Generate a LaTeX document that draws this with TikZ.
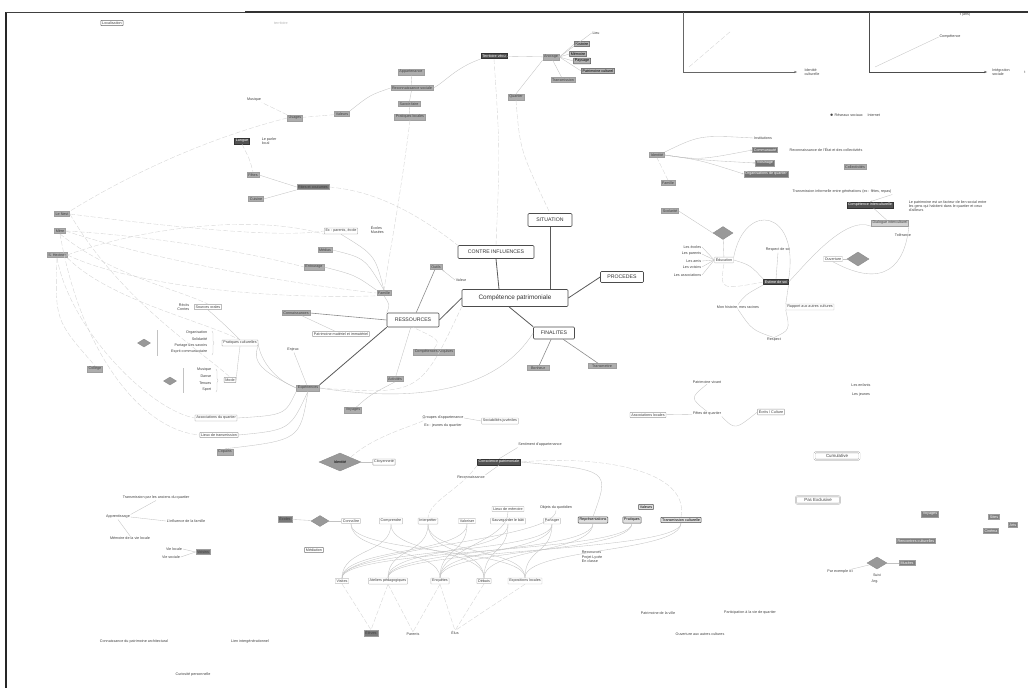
\documentclass[tikz,border=0pt]{standalone}
\usepackage{fontspec}
\setmainfont{Liberation Sans}
\usepackage{tikz}
\usetikzlibrary{positioning}
\usetikzlibrary{arrows.meta}
\usetikzlibrary{decorations.pathreplacing}
\usetikzlibrary{shapes.geometric}

\newcommand{\cmaptiny}{\fontsize{3.7}{4.3}\selectfont}
\newcommand{\cmapmain}{\fontsize{5.2}{6}\selectfont}

\tikzset{
    mainbox/.style={draw=black!70, fill=white, rounded corners=1pt,
        line width=0.6pt, inner sep=1.8pt, font=\cmapmain, text=black!80},
    greybox/.style={fill=black!32, draw=black!38, inner sep=1.3pt,
        font=\cmaptiny, text=black!75},
    darkbox/.style={fill=black!68, draw=black!80, inner sep=1.3pt,
        font=\cmaptiny, text=white},
    whitebox/.style={draw=black!40, fill=white, rounded corners=0.5pt,
        inner sep=1.3pt, font=\cmaptiny, text=black!75},
    framebox/.style={draw=black!70, fill=black!12, line width=0.5pt,
        rounded corners=0.5pt, inner sep=1.3pt, font=\cmaptiny},
    doublebox/.style={draw=black!45, double, double distance=0.6pt,
        rounded corners=1pt, fill=white, inner sep=2pt,
        font=\fontsize{4.4}{5}\selectfont, text=black!75},
    note/.style={inner sep=0.6pt, font=\cmaptiny, text=black!75},
    gdiamond/.style={diamond, fill=black!40, draw=black!45, inner sep=0pt},
    mainlink/.style={draw=black!65, line width=0.8pt},
    midlink/.style={draw=black!45, line width=0.6pt},
    link/.style={draw=black!24, line width=0.35pt},
    faintlink/.style={draw=black!16, line width=0.4pt, dash pattern=on 5pt off 2pt}
}

\begin{document}
\begin{tikzpicture}[x=1pt, y=-1pt]
\useasboundingbox (0,0) rectangle (1028,688);

% cadre
\draw[black!85, line width=1.4pt] (6,688) -- (6,12);
\draw[black!75, line width=0.8pt] (6,12) -- (245,12);
\draw[black!80, line width=1.4pt] (245,12) -- (1028,12);

% axes
\coordinate (axAo) at (683,72);
\coordinate (axAy) at (683,12);
\coordinate (axAx) at (797,72);
\coordinate (axBo) at (869,72);
\coordinate (axBy) at (869,12);
\coordinate (axBx) at (987,72);
\draw[black!60, line width=0.5pt] (axAy) -- (axAo);
\draw[black!60, line width=0.5pt, -{Stealth[length=3pt]}] (axAo) -- (axAx);
\draw[black!70, line width=0.6pt] (axBy) -- (axBo);
\draw[black!70, line width=0.6pt, -{Stealth[length=3pt]}] (axBo) -- (axBx);
\node[note, align=left] (axAlab) at (812,72) {Identité\\culturelle};
\node[note, align=left] (axBlab) at (1001,72) {Intégration\\sociale};
\node[note] (axBend) at (1025,72) {t};
\node[note] (axBtop) at (965,15) {t (ans)};
\node[note] (axBcomp) at (950,37) {Compétence};
\draw[link] ([shift={(6,-5)}]axBo) -- (axBcomp.west);
\draw[faintlink] ([shift={(6,-5)}]axAo) -- ++(42,-36);

% noyau
\node[mainbox, minimum width=106pt, minimum height=17pt,
    font=\fontsize{6.4}{7}\selectfont] (comp) at (515,298) {Compétence patrimoniale};
\node[mainbox, minimum width=76pt, minimum height=13pt] (contre) at (496,252) {CONTRE INFLUENCES};
\node[mainbox, minimum width=44pt, minimum height=13pt] (situ) at (550,220) {SITUATION};
\node[mainbox, minimum width=43pt, minimum height=11pt] (proc) at (622,277) {PROCEDES};
\node[mainbox, minimum width=41pt, minimum height=12pt] (fina) at (554,333) {FINALITES};
\node[mainbox, minimum width=52pt, minimum height=14pt] (ress) at (413,320) {RESSOURCES};

\draw[mainlink] (situ.south) -- (situ.south |- comp.north);
\draw[mainlink] (contre.south) -- ([xshift=3pt]contre.south |- comp.north);
\draw[mainlink] (proc.west) -- (comp.east);
\draw[mainlink] ([xshift=-6pt]comp.south) -- (fina.north west);
\draw[mainlink] (ress.east) -- (comp.west);

\node[greybox, minimum width=22pt] (fin1) at (538,368) {Bonheur};
\node[greybox, minimum width=28pt] (fin2) at (602,366) {Transmettre};
\draw[midlink] (fina) -- (fin1);
\draw[midlink] (fina) -- (fin2);

% ressources
\node[greybox] (outil) at (436,267) {Outils};
\node[note] (valeur) at (461,280) {Valeur};
\node[greybox] (rcomp) at (434,352) {Compétences acquises};
\node[greybox] (rconn) at (296,313) {Connaissances};
\node[whitebox] (rpat) at (341,334) {Patrimoine matériel et immatériel};
\node[note] (enjeux) at (293,350) {Enjeux};
\node[greybox] (exper) at (308,388) {Expériences};
\node[greybox] (activ) at (395,379) {Activités};
\node[greybox] (voyag) at (353,410) {Voyages};
\node[greybox] (famil) at (384,293) {Famille};

\draw[midlink] (outil) -- (ress);
\draw[link, -{Stealth[length=2pt]}] (valeur.west) -- (outil.south east);
\draw[midlink] (rconn.east) -- (ress.west);
\draw[link] (rconn) -- (rpat);
\draw[mainlink] (exper.north east) -- (ress.south west);
\draw[link] (enjeux) -- (exper);
\draw[link] (activ) -- (ress);
\draw[link] (voyag) .. controls (370,395) .. (activ.south);
\draw[link] (famil.south) .. controls (390,305) .. (ress.north west);
\draw[link] (exper.east) .. controls (430,405) and (500,385) .. (fina.west);
\draw[faintlink] (rcomp.north) .. controls (440,340) .. (ress.south);

% gauche
\node[greybox] (nest) at (62,214) {Le Nest};
\node[greybox] (mere) at (60,231) {Mère};
\node[greybox] (shec) at (57,255) {S. Hectner};
\node[greybox] (colle) at (95,369) {Collège};
\node[whitebox] (tbex) at (341,231) {Ex : parents, école};
\node[note, align=left, anchor=west] (ecmu) at (370,230) {Écoles\\Musées};
\node[greybox] (media) at (325,250) {Médias};
\node[greybox] (entou) at (314,267) {Entourage};
\node[whitebox] (orale) at (208,307) {Sources orales};
\node[note, align=right, anchor=east] (recit) at (190,307) {Récits\\Contes};

\node[whitebox] (pcult) at (240,343) {Pratiques culturelles};
\node[note, anchor=east] (pc1) at (208,333) {Organisation};
\node[note, anchor=east] (pc2) at (208,339) {Solidarité};
\node[note, anchor=east] (pc3) at (208,346) {Partage des savoirs};
\node[note, anchor=east] (pc4) at (208,352) {Esprit communautaire};
\node[gdiamond, minimum width=13pt, minimum height=8pt] (dgA) at (144,343) {};
\draw[link] (157,330) -- (157,356);
\draw[link, decorate, decoration={brace, amplitude=2pt}] (212,331) -- (212,355);

\node[whitebox] (mode) at (230,380) {Mode};
\node[note, anchor=east] (md1) at (212,370) {Musique};
\node[note, anchor=east] (md2) at (212,376) {Danse};
\node[note, anchor=east] (md3) at (212,383) {Tenues};
\node[note, anchor=east] (md4) at (212,390) {Sport};
\node[gdiamond, minimum width=13pt, minimum height=8pt] (dgB) at (170,381) {};
\draw[link] (183,368) -- (183,393);
\draw[link, decorate, decoration={brace, amplitude=2pt}] (216,369) -- (216,392);

\node[whitebox] (assq) at (216,418) {Associations du quartier};
\node[whitebox] (lieut) at (219,435) {Lieux de transmission};
\node[greybox] (copai) at (225,452) {Copains};

\draw[faintlink] (nest.east) .. controls (180,228) and (280,238) .. (tbex.west);
\draw[faintlink] (mere.east) .. controls (160,262) and (300,285) .. (famil.west);
\draw[faintlink] (shec.east) .. controls (150,225) and (260,215) .. (tbex.south west);
\draw[faintlink] (mere.east) .. controls (140,235) and (240,250) .. (entou.west);
\draw[faintlink] (shec.south) .. controls (70,330) and (150,410) .. (assq.west);
\draw[faintlink] (shec.south east) .. controls (110,300) and (200,320) .. (pcult.north);
\draw[faintlink] (mere.south) .. controls (110,275) and (180,290) .. (orale.north);
\draw[faintlink] (shec.south) .. controls (55,320) .. (colle.north);
\draw[faintlink] (nest.east) .. controls (120,300) and (200,350) .. (mode.north);
\draw[faintlink] (shec.east) .. controls (120,280) and (240,300) .. (famil.south west);
\draw[faintlink] (mere.south) .. controls (80,350) and (140,430) .. (lieut.west);

\draw[link] (tbex.south) .. controls (375,255) .. (famil.north);
\draw[link] (media.east) .. controls (365,258) .. (famil.north);
\draw[link] (entou.east) .. controls (355,275) .. (famil.north west);
\draw[link] (orale.south) .. controls (225,325) .. (pcult.north);
\draw[link] (pcult.east) .. controls (260,360) and (275,380) .. (exper.west);
\draw[link] (mode.east) .. controls (238,362) .. (pcult.south);
\draw[link] (pcult.south east) .. controls (250,365) and (270,375) .. (exper.west);
\draw[link] (assq.east) .. controls (285,415) .. (exper.south west);
\draw[link] (lieut.east) .. controls (290,430) .. (exper.south);
\draw[link] (copai.north) .. controls (300,440) .. (exper.south);
\draw[faintlink] (exper.east) .. controls (420,395) .. (comp.south west);

% haut
\node[whitebox, draw=black!60] (local) at (112,23) {Localisation};
\node[note, text=black!30] (hfaint) at (281,23) {territoire};
\node[darkbox] (terri) at (494,56) {Territoire vécu};
\node[greybox] (ancra) at (551,57) {Ancrage};
\node[note] (li1) at (596,33) {Lieu};
\node[framebox, fill=black!30] (li2) at (582,44) {Histoire};
\node[framebox, fill=black!30] (li3) at (578,54) {Mémoire};
\node[framebox, fill=black!30] (li4) at (582,61) {Paysage};
\node[framebox, fill=black!30] (li5) at (598,71) {Patrimoine culturel};
\node[greybox] (li6) at (563,80) {Transmission};
\node[greybox] (lieu) at (516,97) {Quartier};
\draw[link] (terri) -- (ancra);
\foreach \l in {li1, li2, li3, li4, li5}
{
    \draw[link] (ancra.east) -- (\l.west);
}
\draw[link] (ancra) -- (li6);
\draw[link] (lieu.north) -- (ancra.south west);

\node[greybox] (st1) at (411,72) {Appartenance};
\node[greybox] (st2) at (412,88) {Reconnaissance sociale};
\node[greybox] (st3) at (409,104) {Savoir-faire};
\node[greybox] (st4) at (410,117) {Pratiques locales};
\draw[link] (st1) -- (st2) -- (st3) -- (st4);
\draw[link] (terri.south west) .. controls (455,68) and (445,82) .. (st2.east);
\node[greybox] (valrs) at (342,114) {Valeurs};
\node[greybox] (usage) at (295,118) {Usages};
\node[note] (musiq) at (254,100) {Musique};
\draw[link] (st2.west) .. controls (370,95) .. (valrs.north east);
\draw[faintlink] (valrs) -- (usage);
\draw[faintlink] (usage.north west) -- (musiq.south east);
\node[darkbox] (langu) at (242,141) {Langue};
\node[note, align=left, anchor=west] (parle) at (261,141) {Le parler\\local};
\node[greybox] (fetes) at (253,175) {Fêtes};
\node[greybox, fill=black!52] (rites) at (313,187) {Rites et coutumes};
\node[greybox] (cuisi) at (256,199) {Cuisine};
\draw[link] (fetes.east) -- (rites.west);
\draw[link] (cuisi.east) -- (rites.south west);
\draw[faintlink] (langu.south) .. controls (250,160) .. (fetes.north);
\draw[faintlink] (rites.east) .. controls (360,190) and (400,200) .. (contre.north west);
\draw[faintlink] (terri.south) .. controls (500,150) .. (contre.north);
\draw[faintlink] (lieu.south) .. controls (520,150) .. (situ.north);
\draw[faintlink] (st4.south) .. controls (400,200) and (390,250) .. (famil.north);
\draw[faintlink] (usage.west) .. controls (200,140) and (120,180) .. (nest.north east);

% droite haut
\node[note] (resea) at (855,115) {$\bullet$ Réseaux sociaux \quad Internet};
\node[note] (insti) at (763,138) {Institutions};
\node[greybox, fill=black!55, text=white] (commu) at (765,150) {Communauté};
\node[greybox, fill=black!55, text=white] (voisi) at (765,163) {Voisinage};
\node[greybox, fill=black!55, text=white] (orgaq) at (766,174) {Organisations de quartier};
\node[note] (reco) at (826,150) {Reconnaissance de l'État et des collectivités};
\node[greybox] (colle2) at (855,167) {Collectivités};
\node[greybox] (ident) at (657,155) {Identité};
\node[greybox] (famil2) at (668,183) {Famille};
\node[greybox] (scola) at (670,211) {Scolarité};
\draw[link] (ident.north east) .. controls (700,135) .. (insti.west);
\foreach \b in {commu, voisi, orgaq}
{
    \draw[link, -{Stealth[length=2pt]}] (ident.east) .. controls (700,160) .. (\b.west);
}
\draw[faintlink] (famil2.north) -- (ident.south);

\node[note] (trans) at (842,192) {Transmission informelle entre générations (ex : fêtes, repas)};
\node[darkbox] (cinte) at (870,205) {Compétence interculturelle};
\node[note, align=left, anchor=west] (citat) at (908,206)
    {Le patrimoine est un facteur de lien social entre\\
     les gens qui habitent dans le quartier et ceux\\
     d'ailleurs};
\node[greybox, fill=black!18] (dialo) at (890,223) {Dialogue interculturel};
\node[note] (toler) at (903,235) {Tolérance};
\draw[link] (cinte) -- (dialo);
\draw[link, -{Stealth[length=2pt]}] (trans.south east) -- (cinte.north);

% droite milieu
\node[gdiamond, minimum width=20pt, minimum height=13pt] (rdiam) at (723,233) {};
\node[whitebox, draw=black!25] (educa) at (724,260) {Éducation};
\node[note, anchor=east] (ed1) at (702,247) {Les écoles};
\node[note, anchor=east] (ed2) at (702,254) {Les parents};
\node[note, anchor=east] (ed3) at (702,261) {Les amis};
\node[note, anchor=east] (ed4) at (702,267) {Les voisins};
\node[note, anchor=east] (ed5) at (702,275) {Les associations};
\foreach \e in {ed1, ed2, ed3, ed4, ed5}
{
    \draw[link] (\e.east) -- (educa.west);
}
\node[note] (rsoi) at (778,250) {Respect de soi};
\node[darkbox] (estim) at (776,282) {Estime de soi};
\node[whitebox, draw=black!25] (ouver) at (833,259) {Ouverture};
\node[gdiamond, minimum width=22pt, minimum height=14pt] (rdiam2) at (858,259) {};
\node[note] (monhi) at (738,307) {Mon histoire, mes racines};
\node[whitebox, draw=black!25] (rappo) at (810,307) {Rapport aux autres cultures};
\node[note] (respe) at (774,340) {Respect};

\draw[link] (scola.east) -- (rdiam.west);
\draw[link] (rdiam) -- (educa);
\draw[link] (educa.north east) .. controls (745,200) and (800,210) .. (estim.north east);
\draw[link] (educa.east) .. controls (750,265) .. (estim.north west);
\draw[link] (estim.east) .. controls (805,265) and (845,215) .. (dialo.south west);
\draw[link] (dialo.south east) .. controls (905,265) and (885,290) .. (ouver.south);
\draw[link] (ouver) -- (rdiam2);
\draw[link] (rsoi.south) -- (estim.north);
\draw[link] (estim.south west) .. controls (745,295) .. (monhi.north);
\draw[link] (estim.south east) -- (rappo.north west);
\draw[link] (monhi.south) .. controls (752,330) .. (respe.north);
\draw[link] (rappo.south west) .. controls (790,330) .. (respe.north);
\draw[faintlink] (estim.west) .. controls (720,290) .. (educa.south);

% droite bas
\node[note] (pviv) at (707,382) {Patrimoine vivant};
\node[whitebox] (assoc) at (648,415) {Associations locales};
\node[note] (fetq) at (707,414) {Fêtes de quartier};
\node[whitebox] (ecrit) at (771,412) {Écrits / Culture};
\node[note] (enfa) at (861,385) {Les enfants};
\node[note] (jeun) at (861,395) {Les jeunes};
\draw[link] (pviv.south) .. controls (690,398) .. (fetq.north);
\draw[link] (fetq.south east) .. controls (735,430) .. (ecrit.west);
\draw[link] (assoc) -- (fetq);

\node[doublebox, minimum width=45pt] (cumul) at (837,456) {Cumulative};
\node[doublebox, minimum width=44pt] (pasex) at (818,500) {Pas Exclusive};

\node[greybox, fill=black!50, text=white] (ex1) at (930,514) {Voyages};
\node[greybox, fill=black!50, text=white] (ex2) at (994,517) {Sites};
\node[greybox, fill=black!50, text=white] (ex3) at (1013,525) {Arts};
\node[greybox, fill=black!50, text=white] (ex4) at (991,531) {Cinéma};
\node[greybox, fill=black!50, text=white] (ex5) at (916,541) {Rencontres culturelles};
\node[gdiamond, minimum width=20pt, minimum height=12pt] (rdiam3) at (877,563) {};
\node[greybox, fill=black!50, text=white] (musee) at (907,563) {Musées};
\node[note] (parex) at (840,572) {Par exemple ici};
\node[note] (suivi) at (877,575) {Suivi};
\node[note] (argu) at (875,582) {Arg.};
\draw[link] (rdiam3) -- (musee);
\draw[link] (parex) -- (rdiam3);

% bas milieu
\node[note] (grp1) at (443,418) {Groupes d'appartenance};
\node[note] (grp2) at (443,426) {Ex : jeunes du quartier};
\node[whitebox, draw=black!25] (socju) at (500,421) {Sociabilités juvéniles};
\draw[link] (grp1.east) -- (socju.west);

\node[gdiamond, minimum width=42pt, minimum height=18pt, font=\cmaptiny] (bdiam) at (340,462) {Identité};
\node[whitebox] (citoy) at (384,462) {Citoyenneté};
\node[darkbox] (consc) at (499,462) {Conscience patrimoniale};
\node[note] (senti) at (540,445) {Sentiment d'appartenance};
\node[note] (recon) at (471,477) {Reconnaissance};
\draw[link] (bdiam) -- (citoy);
\draw[link] (consc.north) -- (senti.south west);
\draw[link] (consc.south) -- (recon.north east);

\node[greybox, fill=black!52] (m0) at (285,519) {Écoles};
\node[gdiamond, minimum width=18pt, minimum height=11pt] (mdiam) at (320,521) {};
\node[whitebox, draw=black!25] (m1) at (351,521) {Connaître};
\node[whitebox, draw=black!25] (m2) at (391,521) {Comprendre};
\node[whitebox, draw=black!25] (m3) at (428,521) {Interpréter};
\node[whitebox, draw=black!25] (m4) at (467,521) {Valoriser};
\node[whitebox, draw=black!25] (m5) at (508,521) {Sauvegarder le bâti};
\node[whitebox, draw=black!25] (m6) at (552,521) {Partager};
\node[framebox] (m7) at (593,520) {Représentations};
\node[framebox] (m8) at (632,520) {Pratiques};
\node[framebox] (m9) at (681,520) {Transmission culturelle};
\node[whitebox, draw=black!25] (u1) at (508,509) {Lieux de mémoire};
\node[note] (u2) at (556,508) {Objets du quotidien};
\node[framebox] (u3) at (646,507) {Valeurs};
\node[whitebox, draw=black!55] (media2) at (314,550) {Médiation};
\node[note, align=left] (projet) at (592,557) {Ressources\\Projet Lycée\\En classe};

\node[whitebox, draw=black!25] (c1) at (342,581) {Visites};
\node[whitebox, draw=black!25] (c2) at (388,581) {Ateliers pédagogiques};
\node[whitebox, draw=black!25] (c3) at (440,581) {Enquêtes};
\node[whitebox, draw=black!25] (c4) at (484,581) {Débats};
\node[whitebox, draw=black!25] (c5) at (525,581) {Expositions locales};
\node[greybox, fill=black!52] (bo1) at (371,633) {Élèves};
\node[note] (bo2) at (413,634) {Parents};
\node[note] (bo3) at (455,633) {Élus};

\draw[link] (m0) -- (mdiam);
\draw[link] (mdiam) -- (m1);
\foreach \a/\b in {m1/c3, m1/c5, m2/c4, m2/c1, m3/c5, m3/c2, m4/c1, m4/c3,
    m5/c2, m5/c4, m6/c1, m6/c3, m7/c2, m7/c4, m8/c1, m8/c3, m9/c2, m9/c5,
    u1/c3, u2/c1, m3/c4, m6/c5}
{
    \draw[link] (\a.south) .. controls +(0,30) and +(0,-30) .. (\b.north);
}
\foreach \a/\b in {c1/bo1, c2/bo1, c2/bo2, c3/bo3, c3/bo2, c4/bo3, c5/bo3}
{
    \draw[faintlink] (\a.south) -- (\b.north);
}
\draw[faintlink] (m9.north) .. controls (690,470) and (600,455) .. (consc.east);
\draw[faintlink] (consc.south west) .. controls (460,490) and (430,500) .. (m3.north);
\draw[faintlink] (bdiam.north east) .. controls (380,430) and (440,420) .. (grp1.west);
\draw[link] (m7.north) .. controls (610,470) .. (consc.east);

\node[note] (bas1) at (658,613) {Patrimoine de la ville};
\node[note] (bas2) at (750,613) {Participation à la vie de quartier};
\node[note] (bas3) at (700,634) {Ouverture aux autres cultures};

% bas gauche
\node[note] (bg1) at (156,498) {Transmission par les anciens du quartier};
\node[note] (bg2) at (118,517) {Apprentissage};
\node[note] (bg3) at (186,521) {L'influence de la famille};
\node[note] (bg4) at (130,538) {Mémoire de la vie locale};
\node[note] (bg5) at (174,549) {Vie locale};
\node[note] (bg6) at (171,557) {Vie sociale};
\node[greybox, fill=black!52] (voisn) at (203,552) {Voisins};
\draw[link] (bg1.south) -- (bg2.north east);
\draw[link] (bg2.south) -- (bg4.north);
\draw[link] (bg2.east) -- (bg3.west);
\draw[link] (bg5.east) -- (voisn.west);
\draw[link] (bg6.east) -- (voisn.west);

\node[note] (bg7) at (134,642) {Connaissance du patrimoine architectural};
\node[note] (bg8) at (250,642) {Lien intergénérationnel};
\node[note] (bg9) at (193,675) {Curiosité personnelle};
\end{tikzpicture}
\end{document}
